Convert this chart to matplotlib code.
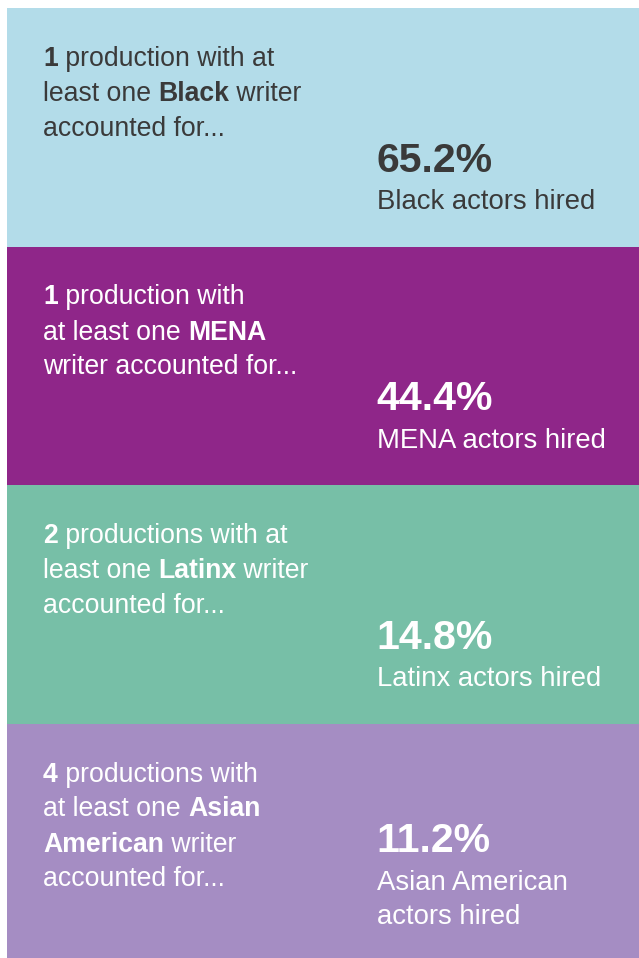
import matplotlib.pyplot as plt

# data
groups = ['Black', 'MENA', 'Latinx', 'Asian American']
productions = [1, 1, 2, 4]
pct_hired = [65.2, 44.4, 14.8, 11.2]
colors = ['#b3dce9', '#8f2689', '#77bfa7', '#a58dc3']
text_colors = ['#3a3a3a', 'white', 'white', 'white']

# left text, line by line, as (text, bold) runs
left_lines = [
    [[('1', True), (' production with at', False)],
     [('least one ', False), ('Black', True), (' writer', False)],
     [('accounted for...', False)]],
    [[('1', True), (' production with', False)],
     [('at least one ', False), ('MENA', True)],
     [('writer accounted for...', False)]],
    [[('2', True), (' productions with at', False)],
     [('least one ', False), ('Latinx', True), (' writer', False)],
     [('accounted for...', False)]],
    [[('4', True), (' productions with', False)],
     [('at least one ', False), ('Asian', True)],
     [('American', True), (' writer', False)],
     [('accounted for...', False)]],
]
right_sub = [['Black actors hired'], ['MENA actors hired'], ['Latinx actors hired'],
             ['Asian American', 'actors hired']]

W, H = 639, 958
fig = plt.figure(figsize=(W / 100, H / 100), dpi=100)
ax = fig.add_axes([0, 0, 1, 1])
ax.set_xlim(0, W)
ax.set_ylim(H, 0)
ax.axis('off')

font = 'Liberation Sans'
top0, ph = 8, 238.5
left_x, right_x = 7, 377
line_h = 35

tops = [top0 + i * ph for i in range(len(groups))]
ax.barh([t + ph / 2 for t in tops], W - left_x, height=ph, left=left_x,
        color=colors, edgecolor='none')

for i, t in enumerate(tops):
    c = text_colors[i]
    for j, runs in enumerate(left_lines[i]):
        y = t + 58 + j * line_h
        prev = None
        for txt, bold in runs:
            w = 'bold' if bold else 'normal'
            if prev is None:
                prev = ax.text(43, y, txt, fontsize=19.2, family=font, weight=w,
                               color=c, va='baseline', ha='left')
            else:
                prev = ax.annotate(txt, xy=(1, 0), xycoords=prev, fontsize=19.2,
                                   family=font, weight=w, color=c,
                                   va='bottom', ha='left')
    # right block, anchored to the bottom
    sub = right_sub[i]
    base = t + 201
    for k, s in enumerate(reversed(sub)):
        ax.text(right_x, base - k * line_h, s, fontsize=19.8, family=font,
                color=c, va='baseline', ha='left')
    ax.text(right_x - 1, base - (len(sub) - 1) * line_h - 37, f'{pct_hired[i]}%',
            fontsize=29.5, family=font, weight='bold', color=c,
            va='baseline', ha='left')

fig.savefig('out.png', dpi=100, facecolor='white')
